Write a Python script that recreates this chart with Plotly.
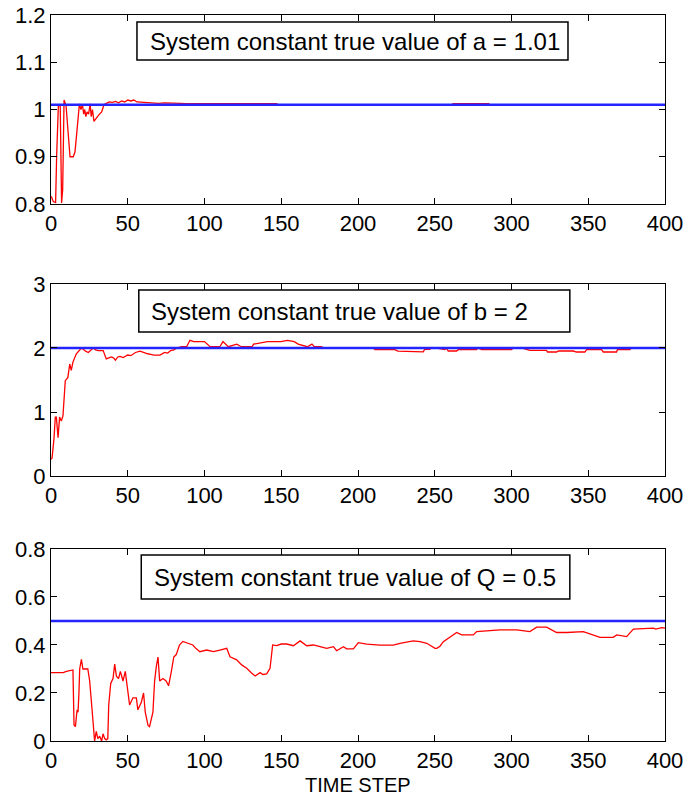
import plotly.graph_objects as go

# ---------------- data ----------------
time_ticks = [0, 50, 100, 150, 200, 250, 300, 350, 400]

a_true = 1.01
a_t = [0, 0.3, 1.5, 3, 3.7, 4.8, 6.0, 6.9, 7.6, 8.5, 9.8, 11.3, 12.4, 14.5, 15.6, 16.5, 17.5,
       18.5, 19.5, 20.5, 21.3, 22, 22.7, 23.5, 24.5, 25.5, 26.2, 27, 28, 29, 31, 33, 34.5,
       36, 38, 40, 42, 44, 46, 48, 50, 52, 54, 56, 60, 64, 68, 70, 74, 78, 84, 88, 92, 96,
       100, 147, 148, 261, 262, 285, 286, 400]
a_v = [0.815, 0.815, 0.805, 0.803, 0.904, 1.008, 1.008, 0.802, 0.83, 1.02, 1.008, 0.955, 0.90,
       0.90, 0.91, 0.94, 0.975, 1.012, 1.0, 1.01, 0.99, 1.0, 0.985, 0.995, 0.99, 1.012, 0.985,
       1.0, 0.975, 0.98, 0.988, 0.995, 1.01, 1.013, 1.016, 1.015, 1.017, 1.014, 1.018, 1.016,
       1.02, 1.018, 1.02, 1.016, 1.015, 1.014, 1.014, 1.013, 1.014, 1.013, 1.013, 1.0125, 1.0125,
       1.013, 1.0125, 1.0125, 1.01, 1.01, 1.0125, 1.0125, 1.01, 1.01]

b_true = 2.0
b_t = [0, 0.7, 2, 2.8, 3.5, 4.6, 5.6, 6.7, 7.8, 8.5, 9.3, 11, 12.2, 13.2, 14.3, 16.5, 19.8,
       21, 22.5, 24.3, 26, 27.5, 29, 31, 34, 36, 38, 39.5, 41, 42, 43.5, 45, 47, 50, 52, 55,
       58, 60, 63, 65, 67, 71, 74, 76, 78, 80, 82, 85, 88.4, 90.5, 93, 100, 103.6, 110, 112,
       115.5, 121, 124, 131, 132, 141, 149.7, 154, 158.5, 161, 167, 170, 171.5, 176, 178,
       210, 211, 224, 226, 236, 237, 242.5, 243.5, 246.8, 247.5, 251.2, 256.6, 257.5, 258.8,
       264.2, 265.3, 277.2, 278, 280.5, 300, 301, 306.5, 310.9, 312, 322.8, 323.5, 329.4,
       330.5, 340.2, 342.4, 347.8, 348.9, 358.7, 359.8, 368.4, 369, 377.1, 378, 400]
b_v = [0.26, 0.28, 0.6, 0.92, 0.92, 0.6, 0.92, 0.86, 0.94, 1.18, 1.49, 1.54, 1.75, 1.65, 1.78,
       1.91, 2.0, 1.98, 1.95, 1.93, 1.97, 2.0, 1.97, 1.96, 1.96, 1.83, 1.85, 1.86, 1.84, 1.81,
       1.86, 1.87, 1.85, 1.89, 1.88, 1.93, 1.95, 1.93, 1.91, 1.9, 1.89, 1.89, 1.93, 1.92, 1.96,
       1.97, 2.0, 2.02, 2.02, 2.12, 2.1, 2.1, 2.02, 2.02, 2.1, 2.02, 2.06, 2.02, 2.02, 2.06,
       2.1, 2.1, 2.12, 2.1, 2.06, 2.02, 2.06, 2.02, 2.02, 2.0,
       2.0, 1.974, 1.974, 1.95, 1.95, 1.94, 1.94, 1.98, 1.98, 2.0, 2.0, 1.974, 2.0, 1.953,
       1.953, 1.974, 1.974, 2.0, 1.974, 1.974, 2.0, 2.0, 1.974, 1.963, 1.963, 1.937, 1.937,
       1.953, 1.953, 1.937, 1.937, 1.974, 1.974, 1.937, 1.937, 1.974, 1.974, 2.0, 2.0]

q_true = 0.5
q_t = [0, 8, 10, 14.3, 15, 15.9, 17, 17.6, 18.2, 18.7, 19.8, 20.8, 24, 25.2, 27.4, 28.4, 29.5,
       30.5, 31.7, 33, 33.9, 35, 36, 37, 37.6, 38.9, 40.4, 41.5, 42.6, 44, 45.2, 46.9, 48.4,
       49.7, 51.2, 53.4, 55.6, 56.6, 58.8, 60.3, 61.4, 63.2, 64.2, 66.4, 67.5, 68.6, 69.7,
       70.8, 72.9, 75, 76.6, 78.4, 80, 81.6, 83.7, 85.9, 88, 90, 92.4, 94.5, 97, 101.4, 105.8,
       110, 114.5, 116.6, 119, 121, 124.2, 127.5, 130.8, 133, 136.2, 138, 140.5, 142.7, 144.4,
       147, 150, 153.6, 157.9, 162.3, 166.6, 171, 175.3, 179.6, 184, 186.1, 190.5, 192.6, 197,
       200.2, 205.7, 210, 214.4, 223, 227.4, 236, 240.4, 244.8, 250.2, 251.3, 253.4, 255.6,
       260, 264.3, 267.5, 275.1, 277.3, 286, 292.5, 303.4, 312, 316.4, 322.9, 329.4, 336,
       346.8, 353.3, 357.7, 366.3, 368.5, 375, 379.4, 392.4, 394, 398, 400]
q_v = [0.285, 0.285, 0.29, 0.296, 0.067, 0.06, 0.13, 0.12, 0.2, 0.3, 0.34, 0.30, 0.30, 0.25,
       0.08, 0.0, 0.04, 0.01, 0.02, 0.0, 0.03, 0.01, 0.005, 0.01, 0.15, 0.24, 0.26, 0.32, 0.27,
       0.26, 0.29, 0.25, 0.29, 0.22, 0.15, 0.18, 0.18, 0.13, 0.16, 0.2, 0.12, 0.065, 0.06,
       0.12, 0.25, 0.31, 0.35, 0.25, 0.26, 0.25, 0.23, 0.29, 0.35, 0.36, 0.40, 0.415, 0.41,
       0.405, 0.40, 0.385, 0.372, 0.379, 0.372, 0.379, 0.386, 0.351, 0.345, 0.338, 0.317,
       0.303, 0.282, 0.271, 0.285, 0.277, 0.28, 0.303, 0.40, 0.397, 0.404, 0.404, 0.397,
       0.417, 0.397, 0.4, 0.393, 0.386, 0.393, 0.376, 0.393, 0.384, 0.384, 0.41, 0.404, 0.4,
       0.399, 0.399, 0.407, 0.417, 0.414, 0.407, 0.386, 0.386, 0.395, 0.414, 0.432, 0.452,
       0.442, 0.442, 0.456, 0.46, 0.463, 0.463, 0.456, 0.474, 0.474, 0.452, 0.452, 0.456,
       0.442, 0.432, 0.432, 0.442, 0.435, 0.466, 0.47, 0.466, 0.472, 0.47]

panels = [
    dict(t=a_t, v=a_v, true=a_true, rng=[0.8, 1.2],
         ticks=[0.8, 0.9, 1.0, 1.1, 1.2], labels=["0.8", "0.9", "1", "1.1", "1.2"],
         text="System constant true value of a = 1.01"),
    dict(t=b_t, v=b_v, true=b_true, rng=[0, 3],
         ticks=[0, 1, 2, 3], labels=["0", "1", "2", "3"],
         text="System constant true value of b = 2"),
    dict(t=q_t, v=q_v, true=q_true, rng=[0, 0.8],
         ticks=[0, 0.2, 0.4, 0.6, 0.8], labels=["0", "0.2", "0.4", "0.6", "0.8"],
         text="System constant true value of Q = 0.5"),
]
x_label = "TIME STEP"

# ---------------- layout geometry ----------------
W, H = 688, 798
ML, MR, MT, MB = 51, 23, 15, 57
domains = [[0.7397, 1.0], [0.365, 0.6295], [0.0, 0.2645]]
boxes = [  # x0, x1, y0, y1 in axis-domain fractions
    (0.140, 0.842, 0.762, 0.963),
    (0.143, 0.845, 0.750, 0.969),
    (0.147, 0.845, 0.740, 0.969),
]
text_pos = [(0.158, 0.862), (0.160, 0.859), (0.164, 0.854)]

FONT = "Liberation Sans, Arial, Helvetica, sans-serif"

fig = go.Figure()
layout = dict(
    width=W, height=H,
    margin=dict(l=ML, r=MR, t=MT, b=MB, autoexpand=False),
    paper_bgcolor="white", plot_bgcolor="white",
    showlegend=False,
    font=dict(family=FONT, size=22, color="black"),
)
shapes = []
annotations = []
for i, p in enumerate(panels):
    n = "" if i == 0 else str(i + 1)
    xa, ya = "x" + n, "y" + n
    fig.add_trace(go.Scatter(x=p["t"], y=p["v"], mode="lines",
                             line=dict(color="#ff0000", width=1.3),
                             xaxis=xa, yaxis=ya, hoverinfo="skip", cliponaxis=True))
    fig.add_trace(go.Scatter(x=[0, 400], y=[p["true"], p["true"]], mode="lines",
                             line=dict(color="#2424ff", width=2.4),
                             xaxis=xa, yaxis=ya, hoverinfo="skip"))
    axstyle = dict(showline=True, linecolor="black", linewidth=1, mirror="allticks",
                   ticks="inside", ticklen=6, tickwidth=1, tickcolor="black",
                   showgrid=False, zeroline=False, automargin=False,
                   tickfont=dict(family=FONT, size=22, color="black"))
    layout["xaxis" + n] = dict(axstyle, domain=[0, 1], range=[0, 400],
                               tickvals=time_ticks,
                               ticktext=[str(v) for v in time_ticks],
                               anchor=ya)
    layout["yaxis" + n] = dict(axstyle, domain=domains[i], range=p["rng"],
                               tickvals=p["ticks"], ticktext=p["labels"],
                               anchor=xa)
    x0, x1, y0, y1 = boxes[i]
    shapes.append(dict(type="rect", xref=xa + " domain", yref=ya + " domain",
                       x0=x0, x1=x1, y0=y0, y1=y1,
                       line=dict(color="black", width=1.5), fillcolor="white",
                       layer="above"))
    tx, ty = text_pos[i]
    annotations.append(dict(text=p["text"], xref=xa + " domain", yref=ya + " domain",
                            x=tx, y=ty, xanchor="left", yanchor="middle",
                            showarrow=False,
                            font=dict(family=FONT, size=24, color="black")))

annotations.append(dict(text=x_label, xref="paper", yref="paper", x=0.5, y=0,
                        yshift=-44, xanchor="center", yanchor="middle",
                        showarrow=False, font=dict(family=FONT, size=20, color="black")))
layout["shapes"] = shapes
layout["annotations"] = annotations
fig.update_layout(**layout)

# remove the default 8px page margin so the figure sits at the window corner
fig.write_html("out.html",
               config={"displayModeBar": False},
               post_script="document.body.style.margin='0';"
                           "document.body.style.overflow='hidden';")
